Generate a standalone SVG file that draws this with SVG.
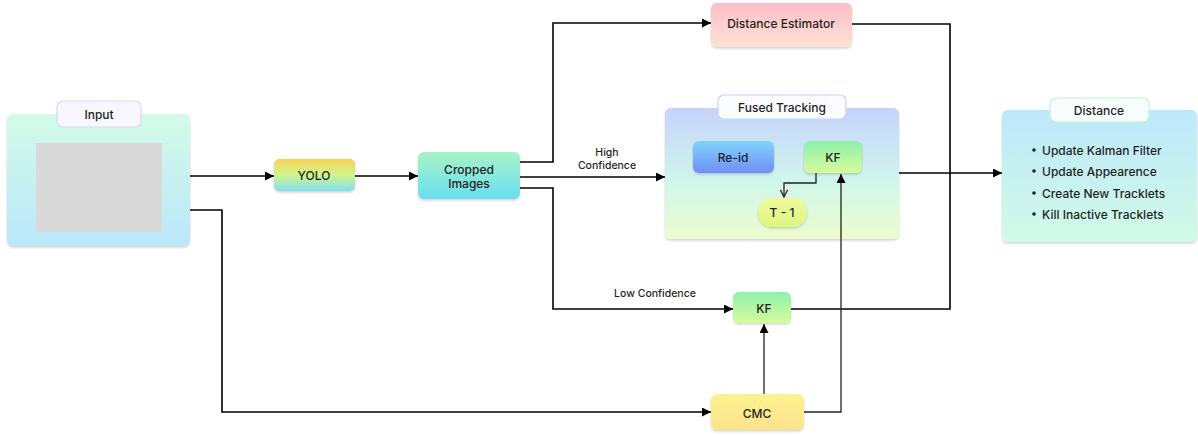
<svg xmlns="http://www.w3.org/2000/svg" width="1198" height="436" viewBox="0 0 1198 436">
<style>
text{font-family:Inter,"Noto Sans","Liberation Sans",sans-serif;font-size:12px;font-weight:500;fill:#1f1f1f;text-anchor:middle;dominant-baseline:central}
.b text{text-anchor:start}
.lbl{font-size:10.5px}
.ln{fill:none;stroke:#000;stroke-width:1.6}
.thin{fill:none;stroke:#222;stroke-width:1.3}
.sh{filter:url(#sh)}
</style>
<defs>
<filter id="sh" x="-10%" y="-10%" width="120%" height="130%"><feDropShadow dx="0" dy="1.5" stdDeviation="1.2" flood-color="#000" flood-opacity="0.18"/></filter>
<marker id="ar" viewBox="0 0 10 10" refX="10" refY="5" markerWidth="9" markerHeight="9" orient="auto-start-reverse" markerUnits="userSpaceOnUse"><path d="M0,0 L10,5 L0,10 z" fill="#000"/></marker>
<marker id="op" viewBox="0 0 10 10" refX="9" refY="5" markerWidth="9" markerHeight="9" orient="auto" markerUnits="userSpaceOnUse"><path d="M1,1 L9,5 L1,9" fill="none" stroke="#222" stroke-width="1.4"/></marker>
<linearGradient id="gIn" x1="0" y1="0" x2="0" y2="1"><stop offset="0" stop-color="#d3fbe8"/><stop offset="1" stop-color="#bae7fb"/></linearGradient>
<linearGradient id="gYolo" x1="0" y1="0" x2="0" y2="1"><stop offset="0" stop-color="#f7d35a"/><stop offset="0.5" stop-color="#cff58c"/><stop offset="1" stop-color="#80e0f2"/></linearGradient>
<linearGradient id="gCrop" x1="0" y1="0" x2="0" y2="1"><stop offset="0" stop-color="#a8f2c6"/><stop offset="1" stop-color="#68dff0"/></linearGradient>
<linearGradient id="gDE" x1="0" y1="0" x2="0" y2="1"><stop offset="0" stop-color="#fdbdca"/><stop offset="1" stop-color="#fde2d3"/></linearGradient>
<linearGradient id="gFT" x1="0" y1="0" x2="0" y2="1"><stop offset="0" stop-color="#c6d3fc"/><stop offset="0.55" stop-color="#cff6ec"/><stop offset="1" stop-color="#edfccc"/></linearGradient>
<linearGradient id="gRe" x1="0" y1="0" x2="0" y2="1"><stop offset="0" stop-color="#80d4fb"/><stop offset="1" stop-color="#6f8ef6"/></linearGradient>
<linearGradient id="gKF" x1="0" y1="0" x2="0" y2="1"><stop offset="0" stop-color="#8ef1ad"/><stop offset="1" stop-color="#d6fa9b"/></linearGradient>
<linearGradient id="gT" x1="0" y1="0" x2="0" y2="1"><stop offset="0" stop-color="#eefa9a"/><stop offset="1" stop-color="#dcf781"/></linearGradient>
<linearGradient id="gDist" x1="0" y1="0" x2="0" y2="1"><stop offset="0" stop-color="#bce8fb"/><stop offset="1" stop-color="#d2fae6"/></linearGradient>
<linearGradient id="gCMC" x1="0" y1="0" x2="0" y2="1"><stop offset="0" stop-color="#fdf38f"/><stop offset="1" stop-color="#fde28d"/></linearGradient>
</defs>

<g id="input">
<rect class="sh" x="7" y="114" width="183" height="132" rx="6" fill="url(#gIn)"/>
<rect x="36" y="143" width="126" height="89" fill="#d9d9d9"/>
<rect x="57" y="101" width="84" height="26" rx="6" fill="#f8f7fe" stroke="#ddd5fb" stroke-width="1.2"/>
<text x="99" y="114">Input</text>
</g>

<g id="yolo">
<rect class="sh" x="274" y="159" width="81" height="32" rx="5" fill="url(#gYolo)"/>
<text x="314" y="175">YOLO</text>
</g>

<g id="cropped">
<rect class="sh" x="418" y="152" width="102" height="47" rx="6" fill="url(#gCrop)"/>
<text x="469" y="169">Cropped</text>
<text x="469" y="183">Images</text>
</g>

<g id="distance-estimator">
<rect class="sh" x="711" y="3" width="141" height="44" rx="6" fill="url(#gDE)"/>
<text x="781" y="23">Distance Estimator</text>
</g>

<g id="fused-tracking">
<rect class="sh" x="665" y="108" width="234" height="131" rx="6" fill="url(#gFT)"/>
<rect x="718" y="95" width="128" height="24" rx="6" fill="#fbfcff" stroke="#c8d3fa" stroke-width="1.2"/>
<text x="782" y="107">Fused Tracking</text>
</g>

<g id="reid">
<rect class="sh" x="693" y="141" width="81" height="32" rx="6" fill="url(#gRe)"/>
<text x="733" y="157">Re-id</text>
</g>

<g id="kf-fused">
<rect class="sh" x="804" y="141" width="58" height="32" rx="6" fill="url(#gKF)"/>
<text x="833" y="157">KF</text>
</g>

<g id="t-1">
<rect class="sh" x="758" y="198" width="49" height="29" rx="14.5" fill="url(#gT)"/>
<text x="782" y="212">T - 1</text>
</g>

<g id="kf-low">
<rect class="sh" x="733" y="292" width="58" height="31" rx="6" fill="url(#gKF)"/>
<text x="764" y="308">KF</text>
</g>

<g id="cmc">
<rect class="sh" x="711" y="394" width="93" height="36" rx="6" fill="url(#gCMC)"/>
<text x="757" y="413" font-weight="600">CMC</text>
</g>

<g id="distance">
<rect class="sh" x="1002" y="110" width="195" height="132" rx="6" fill="url(#gDist)"/>
<rect x="1050" y="98" width="99" height="24" rx="6" fill="#f8fcfd" stroke="#bdf5d0" stroke-width="1.2"/>
<text x="1099" y="110">Distance</text>
<g class="b">
<circle cx="1034" cy="150" r="1.8" fill="#1f1f1f"/><text x="1042" y="150">Update Kalman Filter</text>
<circle cx="1034" cy="171" r="1.8" fill="#1f1f1f"/><text x="1042" y="171">Update Appearence</text>
<circle cx="1034" cy="193" r="1.8" fill="#1f1f1f"/><text x="1042" y="193">Create New Tracklets</text>
<circle cx="1034" cy="214" r="1.8" fill="#1f1f1f"/><text x="1042" y="214">Kill Inactive Tracklets</text>
</g>
</g>

<g id="connectors">
<path class="ln" d="M190,176 H274" marker-end="url(#ar)"/>
<path class="ln" d="M190,210 H222 V412 H711" marker-end="url(#ar)"/>
<path class="ln" d="M355,176 H418" marker-end="url(#ar)"/>
<path class="ln" d="M520,162 H553 V23 H711" marker-end="url(#ar)"/>
<path class="ln" d="M520,177 H665" marker-end="url(#ar)"/>
<path class="ln" d="M520,188 H553 V309 H733" marker-end="url(#ar)"/>
<path class="ln" d="M852,24 H950 V309 H791"/>
<path class="ln" d="M899,173 H1002" marker-end="url(#ar)"/>
<path class="thin" d="M804,412 H841 V174" marker-end="url(#ar)"/>
<path class="thin" d="M764,394 V324" marker-end="url(#ar)"/>
<path class="thin" d="M816,173 V183 H784 V197" marker-end="url(#op)"/>
<text class="lbl" x="607" y="152">High</text>
<text class="lbl" x="607" y="165">Confidence</text>
<text class="lbl" x="655" y="293">Low Confidence</text>
</g>
</svg>
